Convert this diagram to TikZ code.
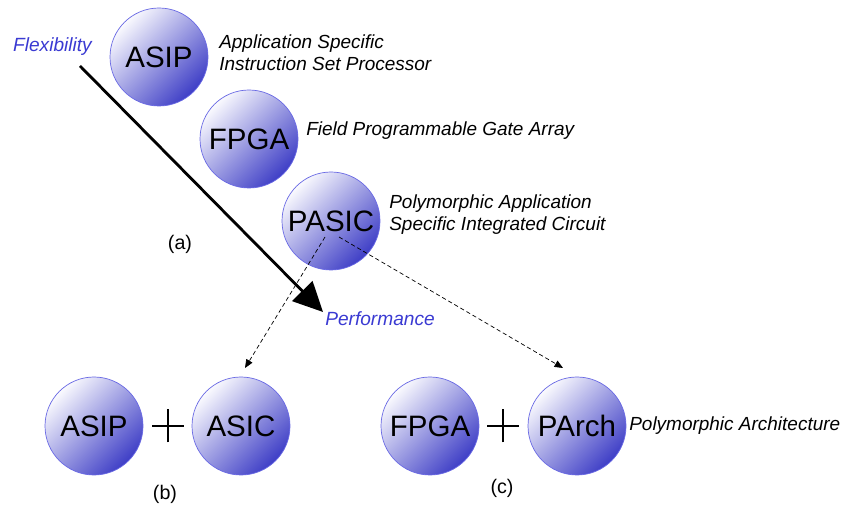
\documentclass[tikz,border=0pt]{standalone}
\usepackage{fontspec}
\setmainfont{Liberation Sans}
\usetikzlibrary{arrows.meta}

\definecolor{balldark}{RGB}{62,62,198}
\definecolor{ballpale}{RGB}{250,250,254}
\definecolor{balledge}{RGB}{105,105,228}
\definecolor{axisblue}{RGB}{58,58,210}

\begin{document}
\begin{tikzpicture}[scale=0.25,
	ball/.style={circle, draw=balledge, line width=0.5pt, top color=ballpale, bottom color=balldark, shading angle=45, minimum size=2.45cm, inner sep=0pt, font=\fontsize{21}{25}\selectfont},
	desc/.style={anchor=west, align=left, inner sep=0pt, font=\fontsize{13.5}{15.6}\selectfont\itshape},
	axislabel/.style={text=axisblue, inner sep=0pt, font=\fontsize{13.6}{16}\selectfont\itshape},
	caseof/.style={inner sep=0pt, font=\fontsize{14}{16}\selectfont},
	plussign/.style={line width=1.6pt}]

	\useasboundingbox (0, 0) rectangle (84.1, 50.6);

	% the three kinds of processor
	\node (asip)  [ball] at (15.9, 44.9) {ASIP};
	\node (fpga)  [ball] at (24.9, 36.7) {FPGA};
	\node (pasic) [ball] at (33.1, 28.5) {PASIC};

	\node (asiptxt)  [desc] at (21.9, 45.3) {Application Specific\\Instruction Set Processor};
	\node (fpgatxt)  [desc] at (30.6, 37.5) {Field Programmable Gate Array};
	\node (pasictxt) [desc] at (38.9, 29.1) {Polymorphic Application\\Specific Integrated Circuit};

	% how a PASIC can be built
	\node (asipb)  [ball] at (9.4, 8.0) {ASIP};
	\node (asicb)  [ball] at (24.1, 8.0) {ASIC};
	\node (fpgac)  [ball] at (43.0, 8.0) {FPGA};
	\node (parchc) [ball] at (57.7, 8.0) {PArch};
	\node (parchtxt) [desc] at (62.9, 8.0) {Polymorphic Architecture};

	\coordinate (plusb) at (16.8, 8.0);
	\coordinate (plusc) at (50.3, 8.0);
	\draw[plussign] (plusb) +(-1.6, 0) -- +(1.6, 0) (plusb) +(0, -1.65) -- +(0, 1.65);
	\draw[plussign] (plusc) +(-1.6, 0) -- +(1.6, 0) (plusc) +(0, -1.65) -- +(0, 1.65);

	\node (casea) [caseof] at (18.0, 26.2) {(a)};
	\node (caseb) [caseof] at (16.5, 1.2) {(b)};
	\node (casec) [caseof] at (50.2, 1.8) {(c)};

	% flexibility against performance
	\node (flex) [axislabel] at (5.25, 45.9) {Flexibility};
	\node (perf) [axislabel] at (38.0, 18.7) {Performance};

	\coordinate (flexend) at (8.0, 44.0);
	\coordinate (perfend) at (32.3, 19.4);
	\coordinate (fromb) at (32.5, 26.9);
	\coordinate (fromc) at (33.9, 26.9);
	\coordinate (intob) at (24.5, 13.8);
	\coordinate (intoc) at (56.3, 13.8);

	\path
	(flexend) edge[-{Triangle[length=21pt, width=20pt]}, line width=2pt] (perfend)
	(fromb) edge[-{Triangle[length=6pt, width=5pt]}, line width=0.5pt, dash pattern=on 3pt off 2pt] (intob)
	(fromc) edge[-{Triangle[length=6pt, width=5pt]}, line width=0.5pt, dash pattern=on 3pt off 2pt] (intoc);

\end{tikzpicture}
\end{document}
